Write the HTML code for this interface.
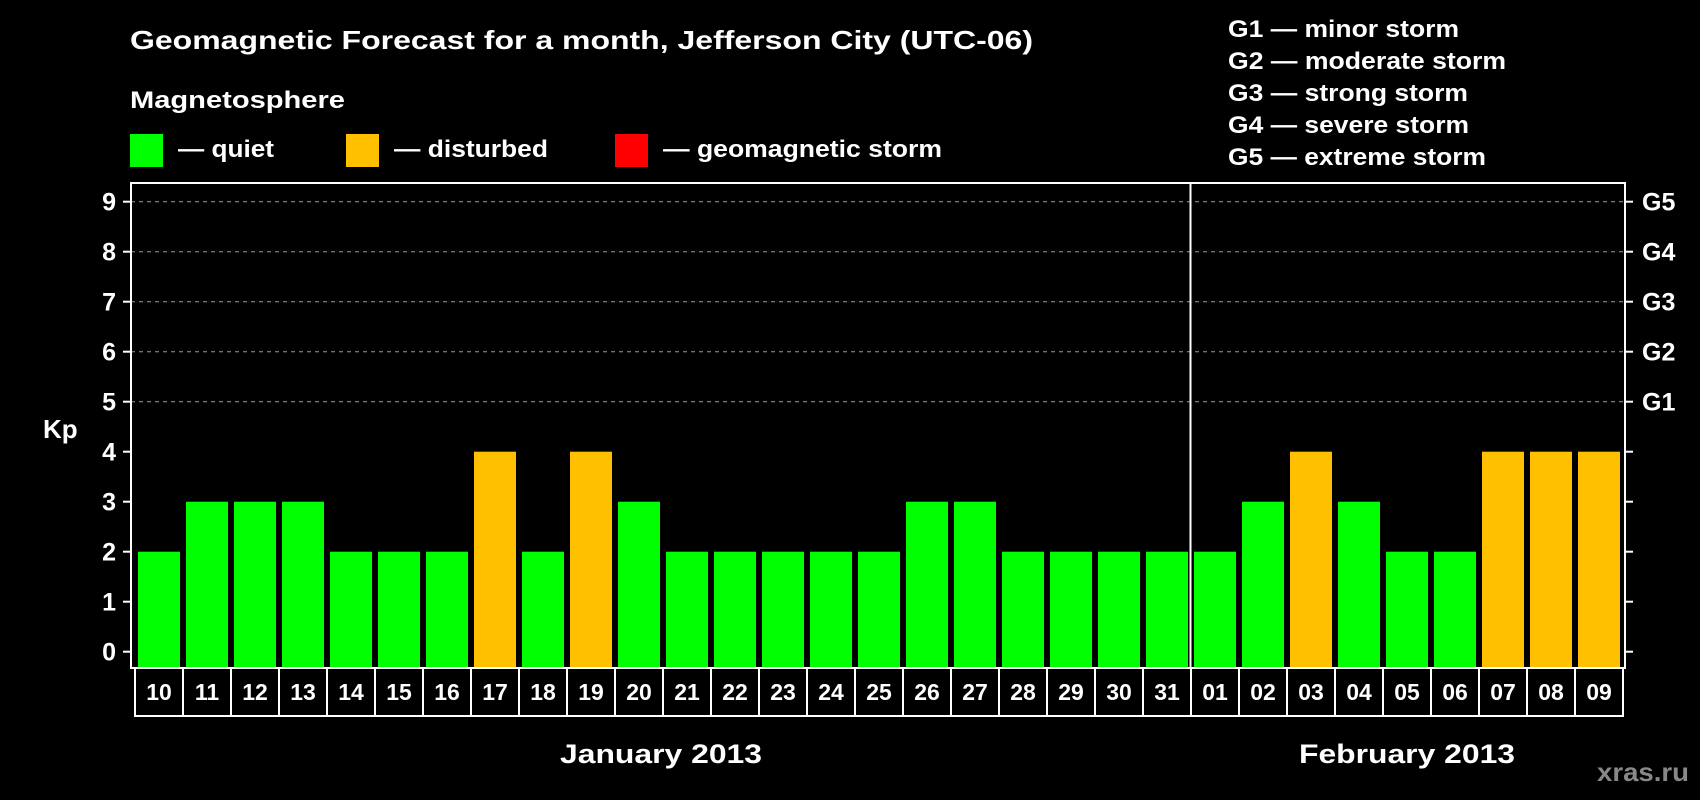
<!DOCTYPE html>
<html><head><meta charset="utf-8"><style>
html,body{margin:0;padding:0;background:#000;}
svg{display:block;font-family:"Liberation Sans",Arial,sans-serif;font-weight:bold;}
</style></head><body>
<svg id="chart" width="1700" height="800" viewBox="0 0 1700 800">
<rect x="0" y="0" width="1700" height="800" fill="#000"/>
<text x="130" y="49" fill="#fff" font-size="26" textLength="903" lengthAdjust="spacingAndGlyphs">Geomagnetic Forecast for a month, Jefferson City (UTC-06)</text>
<text x="130" y="108" fill="#fff" font-size="24" textLength="215" lengthAdjust="spacingAndGlyphs">Magnetosphere</text>
<g><rect x="130" y="134" width="33" height="33" fill="#00ff00"/><text x="178" y="157" fill="#fff" font-size="24" textLength="96" lengthAdjust="spacingAndGlyphs">— quiet</text></g>
<g><rect x="346" y="134" width="33" height="33" fill="#ffc000"/><text x="394" y="157" fill="#fff" font-size="24" textLength="154" lengthAdjust="spacingAndGlyphs">— disturbed</text></g>
<g><rect x="615" y="134" width="33" height="33" fill="#ff0000"/><text x="663" y="157" fill="#fff" font-size="24" textLength="279" lengthAdjust="spacingAndGlyphs">— geomagnetic storm</text></g>
<g font-size="24" fill="#fff">
<text x="1228" y="37" textLength="231" lengthAdjust="spacingAndGlyphs">G1 — minor storm</text>
<text x="1228" y="69" textLength="278" lengthAdjust="spacingAndGlyphs">G2 — moderate storm</text>
<text x="1228" y="101" textLength="240" lengthAdjust="spacingAndGlyphs">G3 — strong storm</text>
<text x="1228" y="133" textLength="241" lengthAdjust="spacingAndGlyphs">G4 — severe storm</text>
<text x="1228" y="165" textLength="258" lengthAdjust="spacingAndGlyphs">G5 — extreme storm</text>
</g>
<text x="43" y="438" fill="#fff" font-size="26">Kp</text>
<g id="plot"></g>
<text x="560" y="763" fill="#fff" font-size="27" textLength="202" lengthAdjust="spacingAndGlyphs">January 2013</text>
<text x="1299" y="763" fill="#fff" font-size="27" textLength="216" lengthAdjust="spacingAndGlyphs">February 2013</text>
<text x="1597" y="781" fill="#888" font-size="26" textLength="92" lengthAdjust="spacingAndGlyphs">xras.ru</text>
</svg>
<script>
const days = ["10","11","12","13","14","15","16","17","18","19","20","21","22","23","24","25","26","27","28","29","30","31","01","02","03","04","05","06","07","08","09"];
const kpValues = [2,3,3,3,2,2,2,4,2,4,3,2,2,2,2,2,3,3,2,2,2,2,2,3,4,3,2,2,4,4,4];
const yTicks = [0,1,2,3,4,5,6,7,8,9];
const gLabels = ["G1","G2","G3","G4","G5"];
const gLevels = [5,6,7,8,9];
const monthBreakIndex = 22;

const NS="http://www.w3.org/2000/svg";
const plot=document.getElementById('plot');
const x0=135, step=48, y0=651.7, unit=50, plotTop=183, plotLeft=131, plotRight=1625, plotBottom=668;
const xs=i=>x0+i*step;
const ys=v=>y0-v*unit;
function mk(tag,attrs){const e=document.createElementNS(NS,tag);for(const k in attrs)e.setAttribute(k,attrs[k]);plot.appendChild(e);return e;}
yTicks.forEach(t=>{
  if(t>=5){const g=mk('line',{x1:plotLeft,x2:plotRight,y1:ys(t),y2:ys(t),stroke:'#999','stroke-width':1,'stroke-dasharray':'4,4'});
  
  }
  const tk=mk('line',{x1:plotLeft-8,x2:plotLeft,y1:ys(t),y2:ys(t),stroke:'#fff','stroke-width':2});
  
  
  const tr=mk('line',{x1:plotRight,x2:plotRight+8,y1:ys(t),y2:ys(t),stroke:'#fff','stroke-width':2});
  
  
  const lb=mk('text',{x:116,y:ys(t)+9,fill:'#fff','font-size':25,'text-anchor':'end'});
  lb.textContent=t;
  
  
});
gLabels.forEach((g,i)=>{
  const t=mk('text',{x:1642,y:ys(gLevels[i])+9,fill:'#fff','font-size':25});
  t.textContent=g;
  
  
});
kpValues.forEach((v,i)=>{
  const c=v>=5?'#ff0000':(v>=4?'#ffc000':'#00ff00');
  const b=mk('rect',{x:xs(i)+3,y:ys(v),width:42,height:plotBottom-ys(v),fill:c});
  
  
});
const fr=mk('rect',{x:plotLeft,y:plotTop,width:plotRight-plotLeft,height:plotBottom-plotTop,fill:'none',stroke:'#fff','stroke-width':2});


const dv=mk('line',{x1:xs(monthBreakIndex)-0.5,x2:xs(monthBreakIndex)-0.5,y1:plotTop,y2:plotBottom,stroke:'#fff','stroke-width':2});


days.forEach((d,i)=>{
  const r=mk('rect',{x:xs(i),y:plotBottom,width:step,height:48,fill:'none',stroke:'#fff','stroke-width':2});
  
  
  const t=mk('text',{x:xs(i)+step/2,y:700,fill:'#fff','font-size':23,'text-anchor':'middle'});
  t.textContent=d;
  
  
});
</script>
</body></html>
